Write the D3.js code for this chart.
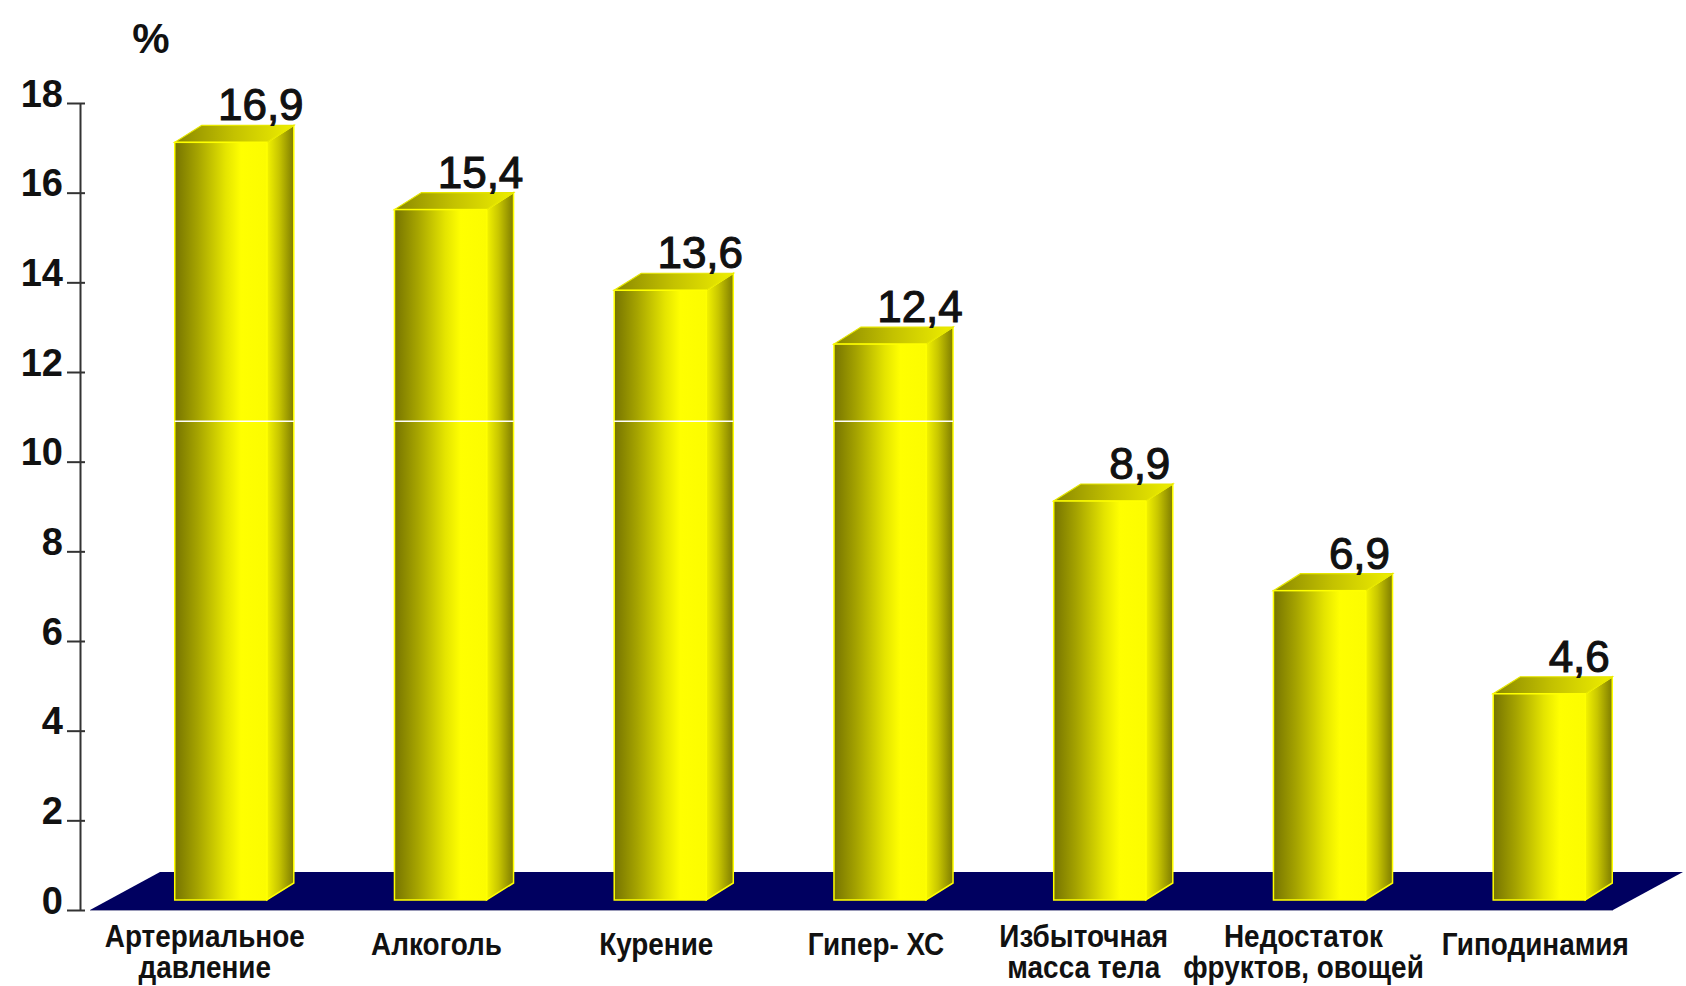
<!DOCTYPE html>
<html>
<head>
<meta charset="utf-8">
<script src="https://cdn.jsdelivr.net/npm/d3@7"></script>
<style>
  html, body { margin: 0; padding: 0; background: #ffffff; }
  svg { display: block; }
  text { font-family: "Liberation Sans", Arial, sans-serif; fill: #111; }
</style>
</head>
<body>
<svg id="chart" width="1686" height="986"></svg>
<script>
// Risk factors and their share, %
const categories = ["Артериальное давление", "Алкоголь", "Курение", "Гипер- ХС",
                    "Избыточная масса тела", "Недостаток фруктов, овощей", "Гиподинамия"];
const categoryLines = [["Артериальное", "давление"], ["Алкоголь"], ["Курение"], ["Гипер- ХС"],
                       ["Избыточная", "масса тела"], ["Недостаток", "фруктов, овощей"], ["Гиподинамия"]];
const values = [16.9, 15.4, 13.6, 12.4, 8.9, 6.9, 4.6];
const valueLabels = ["16,9", "15,4", "13,6", "12,4", "8,9", "6,9", "4,6"];
const yTicks = [0, 2, 4, 6, 8, 10, 12, 14, 16, 18];
const yTitle = "%";
const seamValue = 10.9; // light seam across the tallest columns

const svg = d3.select("#chart");

const y = d3.scaleLinear().domain([0, 18]).range([910, 103]);
const x = d3.scaleBand().domain(categories).range([111, 1649])
  .paddingInner(0.581).paddingOuter(0.29);

const bw = x.bandwidth();
const depth = { dx: 27, dy: 17 };   // column depth in projection
const lift = 10;                    // columns stand slightly back on the floor
const floorDepth = { dx: 70, dy: 38 };

// gradients
const defs = svg.append("defs");
function grad(id, stops) {
  const g = defs.append("linearGradient").attr("id", id)
    .attr("x1", "0%").attr("x2", "100%").attr("y1", "0%").attr("y2", "0%");
  stops.forEach(([o, c]) => g.append("stop").attr("offset", o).attr("stop-color", c));
}
grad("front", [[0, "#767400"], [0.25, "#a6a400"], [0.55, "#e4e400"], [0.72, "#ffff00"], [1, "#fcfc00"]]);
grad("side", [[0, "#f4f400"], [0.45, "#c8c600"], [1, "#7e7c00"]]);
grad("top", [[0, "#8a8800"], [0.5, "#c4c200"], [1, "#eeee00"]]);

// floor
const y0 = y(0);
const fl = x.range()[0] - 21, fr = x.range()[1] - 36;
svg.append("polygon")
  .attr("points", [[fl, y0], [fl + floorDepth.dx, y0 - floorDepth.dy],
                   [fr + floorDepth.dx, y0 - floorDepth.dy], [fr, y0]].map(p => p.join(",")).join(" "))
  .attr("fill", "#000060");
svg.append("line")
  .attr("x1", fl).attr("x2", fr).attr("y1", y0 + 0.5).attr("y2", y0 + 0.5)
  .attr("stroke", "#9a9ab8").attr("stroke-width", 1);

// columns
const bars = svg.append("g").selectAll("g").data(categories).join("g");
bars.each(function (c, i) {
  const g = d3.select(this);
  const xl = x(c), xr = xl + bw;
  const yt = y(values[i]) - lift, yb = y0 - lift;
  const { dx, dy } = depth;
  const pts = a => a.map(p => p.join(",")).join(" ");
  g.append("polygon")
    .attr("points", pts([[xr, yt], [xr + dx, yt - dy], [xr + dx, yb - dy], [xr, yb]]))
    .attr("fill", "url(#side)").attr("stroke", "#ffff00").attr("stroke-width", 1.5);
  g.append("polygon")
    .attr("points", pts([[xl, yt], [xr, yt], [xr + dx, yt - dy], [xl + dx, yt - dy]]))
    .attr("fill", "url(#top)").attr("stroke", "#e6e600").attr("stroke-width", 1.2);
  g.append("rect")
    .attr("x", xl).attr("y", yt).attr("width", bw).attr("height", yb - yt)
    .attr("fill", "url(#front)").attr("stroke", "#ffff00").attr("stroke-width", 1.5);
  if (values[i] > seamValue) {
    g.append("line")
      .attr("x1", xl).attr("x2", xr + dx).attr("y1", y(seamValue)).attr("y2", y(seamValue))
      .attr("stroke", "#ffffff").attr("stroke-width", 1.5);
  }
  g.append("text")
    .attr("x", xl + bw / 2 + 40).attr("y", yt - dy - 5)
    .attr("text-anchor", "middle")
    .style("font-size", "44px").style("font-weight", "normal")
    .attr("stroke", "#111").attr("stroke-width", 1.1)
    .text(valueLabels[i]);
});

// category labels (one text element per category, lines as tspans)
const labels = svg.append("g").selectAll("text").data(categories).join("text")
  .attr("text-anchor", "middle")
  .style("font-size", "31px").style("font-weight", "bold")
  .attr("transform", (c, i) => {
    const two = categoryLines[i].length > 1;
    const cx = x(c) + bw / 2 + (two ? -16 : -4);
    const base = two ? y0 + 37 : y0 + 45;
    return `translate(${cx},${base}) scale(0.9,1)`;
  });
labels.selectAll("tspan").data((c, i) => categoryLines[i]).join("tspan")
  .attr("x", 0).attr("dy", (t, k) => k === 0 ? 0 : 31)
  .text(t => t);

// y axis
const ax = svg.append("g").attr("transform", "translate(80,0)")
  .call(d3.axisLeft(y).tickValues(yTicks).tickSizeInner(13).tickSizeOuter(0).tickPadding(4));
ax.select(".domain").attr("stroke", "#333").attr("stroke-width", 2);
ax.selectAll(".tick line").attr("x1", 5).attr("x2", -13).attr("stroke", "#333").attr("stroke-width", 2);
ax.selectAll(".tick text")
  .attr("dy", "0.08em")
  .style("font-size", "38px").style("font-weight", "bold")
  .style("font-family", "'Liberation Sans', Arial, sans-serif").attr("fill", "#111");

svg.append("text")
  .attr("x", 151).attr("y", 53).attr("text-anchor", "middle")
  .style("font-size", "42px").style("font-weight", "bold")
  .text(yTitle);
</script>
</body>
</html>
